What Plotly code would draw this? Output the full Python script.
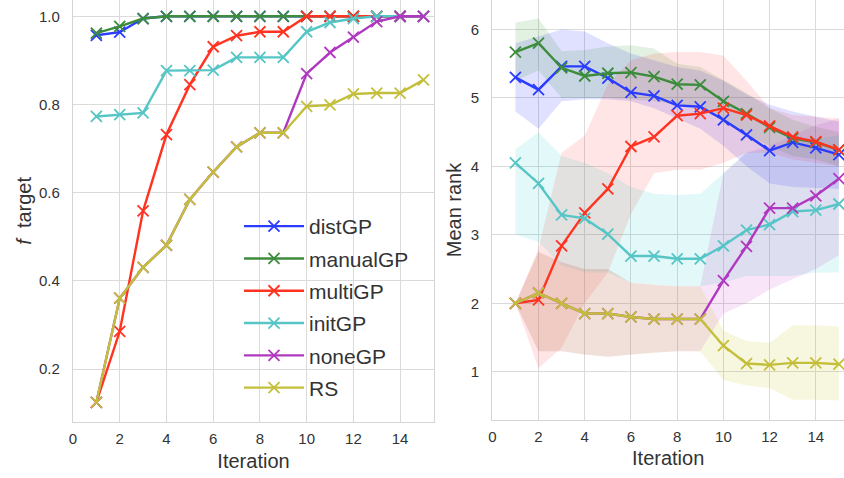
import plotly.graph_objects as go

# ---------------- data ----------------
iterations = list(range(1, 16))
series_names = ["distGP", "manualGP", "multiGP", "initGP", "noneGP", "RS"]
series_colors = ["#2a3cff", "#3c8c3c", "#ff3320", "#55c5c5", "#b038c0", "#c4bf3a"]
band_colors = ["rgba(0,0,255,0.12)", "rgba(0,128,0,0.11)", "rgba(255,0,0,0.10)",
               "rgba(0,191,191,0.11)", "rgba(191,0,191,0.10)", "rgba(191,191,0,0.12)"]

# best objective value found so far (f target)
f_dist = [0.957, 0.964, 0.995, 1.0, 1.0, 1.0, 1.0, 1.0, 1.0, 1.0, 1.0, 1.0, 1.0, 1.0, 1.0]
f_manual = [0.962, 0.977, 0.995, 1.0, 1.0, 1.0, 1.0, 1.0, 1.0, 1.0, 1.0, 1.0, 1.0, 1.0, 1.0]
f_multi = [0.125, 0.286, 0.559, 0.732, 0.845, 0.931, 0.956, 0.965, 0.965, 1.0, 1.0, 1.0, 1.0, 1.0, 1.0]
f_init = [0.773, 0.777, 0.781, 0.877, 0.877, 0.878, 0.907, 0.907, 0.907, 0.965, 0.986, 0.995, 1.0, 1.0, 1.0]
f_none = [0.125, 0.361, 0.431, 0.481, 0.585, 0.647, 0.704, 0.736, 0.736, 0.870, 0.918, 0.953, 0.988, 1.0, 1.0]
f_rs = [0.125, 0.361, 0.431, 0.481, 0.585, 0.647, 0.704, 0.736, 0.736, 0.796, 0.799, 0.824, 0.826, 0.826, 0.856]

# mean rank per iteration
r_dist = [5.30, 5.12, 5.46, 5.46, 5.29, 5.08, 5.03, 4.89, 4.87, 4.68, 4.46, 4.23, 4.35, 4.27, 4.17]
r_manual = [5.67, 5.80, 5.44, 5.32, 5.36, 5.37, 5.31, 5.20, 5.19, 4.95, 4.77, 4.57, 4.41, 4.35, 4.24]
r_multi = [2.00, 2.05, 2.84, 3.32, 3.67, 4.29, 4.43, 4.74, 4.77, 4.85, 4.75, 4.59, 4.43, 4.36, 4.24]
r_init = [4.05, 3.75, 3.29, 3.24, 3.01, 2.69, 2.69, 2.65, 2.65, 2.84, 3.07, 3.15, 3.34, 3.36, 3.45]
r_none = [2.00, 2.15, 2.00, 1.85, 1.85, 1.80, 1.77, 1.77, 1.77, 2.33, 2.83, 3.39, 3.39, 3.57, 3.82]
r_rs = [2.00, 2.15, 2.00, 1.85, 1.85, 1.80, 1.77, 1.77, 1.77, 1.38, 1.12, 1.10, 1.13, 1.13, 1.11]

# spread of the rank (lower / upper edge of shaded band)
lo_dist = [4.80, 4.55, 4.95, 4.98, 4.98, 4.95, 4.85, 4.70, 4.55, 4.30, 4.00, 3.75, 3.70, 3.68, 3.67]
hi_dist = [5.80, 5.90, 6.00, 5.97, 5.80, 5.65, 5.55, 5.45, 5.40, 5.25, 5.05, 4.90, 4.80, 4.72, 4.65]
lo_manual = [5.25, 5.40, 5.00, 5.00, 5.00, 4.98, 4.95, 4.90, 4.88, 4.65, 4.45, 4.30, 4.15, 4.10, 4.00]
hi_manual = [6.10, 6.16, 5.68, 5.70, 5.75, 5.77, 5.72, 5.50, 5.45, 5.26, 5.07, 4.85, 4.68, 4.58, 4.50]
lo_multi = [2.00, 1.05, 1.35, 2.00, 2.45, 3.30, 3.90, 3.95, 3.95, 4.05, 4.20, 4.20, 4.10, 4.05, 4.00]
hi_multi = [2.00, 2.80, 4.20, 4.45, 5.20, 5.55, 5.65, 5.67, 5.67, 5.62, 5.25, 4.85, 4.75, 4.72, 4.70]
lo_init = [3.00, 2.90, 2.55, 2.45, 2.45, 2.30, 2.27, 2.25, 2.25, 2.30, 2.40, 2.40, 2.40, 2.45, 2.45]
hi_init = [4.25, 4.50, 4.15, 4.05, 3.90, 3.70, 3.60, 3.58, 3.60, 3.90, 4.20, 4.25, 4.35, 4.40, 4.45]
lo_none = [2.00, 1.30, 1.30, 1.25, 1.22, 1.25, 1.28, 1.30, 1.30, 1.85, 2.00, 2.20, 2.35, 2.50, 2.70]
hi_none = [2.00, 2.75, 2.60, 2.50, 2.50, 2.30, 2.27, 2.25, 2.25, 3.90, 4.20, 4.30, 4.45, 4.60, 4.70]
lo_rs = [2.00, 1.30, 1.30, 1.25, 1.22, 1.25, 1.28, 1.30, 1.30, 0.88, 0.80, 0.76, 0.59, 0.59, 0.58]
hi_rs = [2.00, 2.75, 2.60, 2.50, 2.50, 2.30, 2.27, 2.25, 2.25, 1.60, 1.45, 1.42, 1.68, 1.68, 1.66]

f_values = [f_dist, f_manual, f_multi, f_init, f_none, f_rs]
rank_values = [r_dist, r_manual, r_multi, r_init, r_none, r_rs]
rank_lo = [lo_dist, lo_manual, lo_multi, lo_init, lo_none, lo_rs]
rank_hi = [hi_dist, hi_manual, hi_multi, hi_init, hi_none, hi_rs]

# ---------------- figure ----------------
FONT = "Arial, 'Liberation Sans', sans-serif"
TEXT = "#333333"
GRID = "#dadada"

fig = go.Figure()

marker_style = dict(symbol="x-thin", size=11)

# left panel: f target (one legend group per series so the entries get spaced)
for name, color, ys in zip(series_names, series_colors, f_values):
    fig.add_trace(go.Scatter(
        x=iterations, y=ys, name=name, mode="lines+markers",
        line=dict(color=color, width=2.4),
        marker=dict(color=color, line=dict(color=color, width=1.8), **marker_style),
        xaxis="x", yaxis="y", showlegend=True, legendgroup=name,
    ))

# right panel: shaded spread bands
for name, fill, lo, hi in zip(series_names, band_colors, rank_lo, rank_hi):
    fig.add_trace(go.Scatter(
        x=iterations + iterations[::-1], y=hi + lo[::-1],
        fill="toself", fillcolor=fill, line=dict(width=0),
        mode="lines", hoverinfo="skip", showlegend=False,
        xaxis="x2", yaxis="y2",
    ))

# right panel: mean rank lines
for name, color, ys in zip(series_names, series_colors, rank_values):
    fig.add_trace(go.Scatter(
        x=iterations, y=ys, name=name, mode="lines+markers",
        line=dict(color=color, width=2.4),
        marker=dict(color=color, line=dict(color=color, width=1.8), **marker_style),
        xaxis="x2", yaxis="y2", showlegend=False, legendgroup=name,
    ))

W, H = 844, 478
axis_common = dict(
    showgrid=True, gridcolor=GRID, gridwidth=1.3,
    zeroline=False, showline=True, linecolor="#d4d4d4", linewidth=1.3,
    ticks="", tickfont=dict(family=FONT, size=15, color=TEXT),
    automargin=False,
)

fig.update_layout(
    width=W, height=H,
    margin=dict(l=0, r=0, t=0, b=0),
    paper_bgcolor="white", plot_bgcolor="white",
    font=dict(family=FONT, color=TEXT),
    xaxis=dict(
        domain=[73 / W, 434 / W], range=[0, 15.45], tickvals=list(range(0, 15, 2)),
        anchor="y", ticklabelstandoff=3,
        title=dict(text="Iteration", font=dict(size=20, color=TEXT), standoff=8),
        **axis_common,
    ),
    yaxis=dict(
        domain=[(H - 421.7) / H, 1.0], range=[0.081, 1.037],
        tickvals=[0.2, 0.4, 0.6, 0.8, 1.0], tickformat=".1f",
        anchor="x", mirror=True, ticklabelstandoff=9,
        title=dict(text="<i>f</i>  target", font=dict(size=20, color=TEXT), standoff=1),
        **axis_common,
    ),
    xaxis2=dict(
        domain=[492.3 / W, 1.0], range=[0, 15.22], tickvals=list(range(0, 15, 2)),
        anchor="y2", ticklabelstandoff=3,
        title=dict(text="Iteration", font=dict(size=20, color=TEXT), standoff=6),
        **axis_common,
    ),
    yaxis2=dict(
        domain=[(H - 420) / H, 1.0], range=[0.295, 6.43], tickvals=[1, 2, 3, 4, 5, 6],
        anchor="x2", ticklabelstandoff=9,
        title=dict(text="Mean rank", font=dict(size=20, color=TEXT), standoff=3),
        **axis_common,
    ),
    legend=dict(
        x=239 / W, y=(H - 206) / H, xanchor="left", yanchor="top",
        bgcolor="rgba(0,0,0,0)", borderwidth=0,
        font=dict(family=FONT, size=21, color=TEXT),
        itemwidth=60, tracegroupgap=2,
    ),
    showlegend=True,
)

fig.write_html("out.html")
